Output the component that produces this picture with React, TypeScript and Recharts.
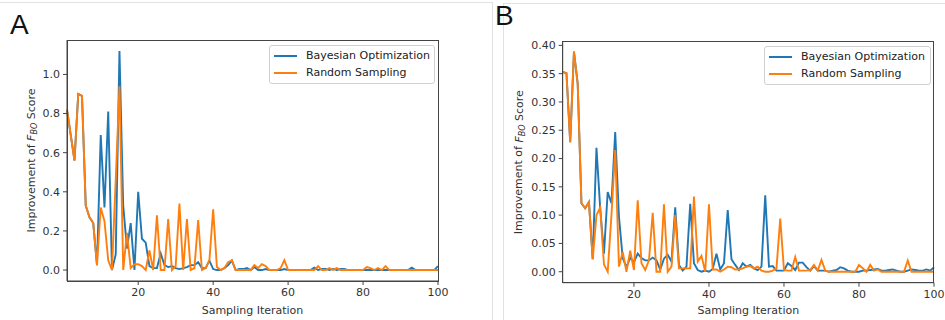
import React from "react";
import { Line, LineChart, XAxis, YAxis } from "recharts";

const iterations = Array.from({ length: 100 }, (_, i) => i + 1);
const xTicks = [20, 40, 60, 80, 100];

// panel A
const boA = [
  0.82, 0.69, 0.56, 0.9, 0.89, 0.33, 0.27, 0.24, 0.025, 0.69,
  0.32, 0.81, 0.0, 0.08, 1.12, 0.33, 0.11, 0.24, 0.0, 0.4,
  0.16, 0.14, 0.02, 0.01, 0.01, 0.085, 0.025, 0.015, 0.02, 0.01,
  0.005, 0.01, 0.015, 0.025, 0.025, 0.04, 0.01, 0.01, 0.048, 0.005,
  0, 0, 0.01, 0.025, 0.048, 0, 0.005, 0.005, 0.01, 0,
  0.015, 0, 0, 0.005, 0, 0, 0, 0, 0.005, 0,
  0, 0, 0, 0, 0, 0, 0.012, 0, 0.006, 0.006,
  0, 0.006, 0, 0.005, 0.006, 0, 0, 0, 0, 0,
  0, 0, 0, 0, 0, 0, 0, 0, 0, 0,
  0, 0, 0.012, 0, 0, 0, 0, 0, 0, 0.02,
];
const rsA = [
  0.82, 0.69, 0.56, 0.9, 0.89, 0.33, 0.27, 0.24, 0.025, 0.32,
  0.25, 0.05, 0.0, 0.46, 0.94, 0.0, 0.19, 0.01, 0.03, 0.03,
  0.02, 0.0, 0.1, 0.0, 0.28, 0.0, 0.0, 0.26, 0.0, 0.02,
  0.34, 0.0, 0.26, 0.0, 0.01, 0.255, 0.0, 0.01, 0.05, 0.31,
  0.015, 0, 0.01, 0.04, 0.05, 0, 0, 0, 0, 0,
  0.025, 0.01, 0.03, 0.02, 0, 0, 0, 0.01, 0.05, 0,
  0, 0, 0, 0, 0, 0, 0, 0.02, 0, 0,
  0.01, 0, 0.01, 0, 0, 0, 0, 0, 0, 0,
  0.015, 0.01, 0, 0.01, 0, 0.02, 0, 0, 0, 0,
  0, 0, 0, 0, 0, 0, 0, 0, 0, 0,
];
const yTicksA = [0, 0.2, 0.4, 0.6, 0.8, 1.0];

// panel B
const boB = [
  0.353, 0.351, 0.229, 0.389, 0.332, 0.121, 0.112, 0.123, 0.022, 0.219,
  0.112, 0.032, 0.141, 0.121, 0.247, 0.097, 0.024, 0.008, 0.025, 0.017,
  0.032, 0.024, 0.02, 0.02, 0.025, 0.02, 0.004, 0.023, 0.03, 0.018,
  0.114, 0.012, 0.002, 0.009, 0.12, 0.015, 0.003, 0, 0.002, 0,
  0.005, 0.032, 0.004, 0.015, 0.109, 0.022, 0.012, 0.003, 0.015, 0.009,
  0.012, 0.006, 0.003, 0.009, 0.135, 0.009, 0.01, 0.002, 0.002, 0.002,
  0.015, 0.01, 0.003, 0.016, 0.016, 0.008, 0.002, 0.01, 0.002, 0.002,
  0.002, 0, 0.002, 0.003, 0.008, 0.006, 0.002, 0, 0, 0,
  0.002, 0.002, 0.003, 0.004, 0.005, 0.002, 0.002, 0.003, 0.004, 0.002,
  0, 0, 0.002, 0.004, 0.003, 0.002, 0.002, 0.004, 0.002, 0.008,
];
const rsB = [
  0.353, 0.351, 0.229, 0.389, 0.332, 0.121, 0.112, 0.123, 0.022, 0.1,
  0.113, 0.013, 0, 0.1, 0.215, 0.009, 0.035, 0, 0.037, 0.003,
  0.126, 0.015, 0.003, 0.02, 0.104, 0, 0, 0.119, 0, 0.009,
  0.1, 0.006, 0.006, 0.006, 0.006, 0.133, 0.018, 0.028, 0, 0.119,
  0.004, 0.004, 0, 0.004, 0.009, 0.008, 0.004, 0.004, 0.006, 0.009,
  0.01, 0.006, 0.009, 0.002, 0, 0, 0.002, 0.006, 0.094, 0.003,
  0.002, 0.002, 0.026, 0.002, 0.002, 0.002, 0.003, 0.012, 0.002, 0.021,
  0.002, 0, 0, 0, 0, 0, 0, 0, 0, 0.012,
  0.006, 0, 0.012, 0.002, 0.004, 0, 0, 0, 0, 0,
  0, 0, 0.02, 0, 0, 0, 0, 0, 0, 0,
];
const yTicksB = [0, 0.05, 0.1, 0.15, 0.2, 0.25, 0.3, 0.35, 0.4];

const BLUE = "#1f77b4";
const ORANGE = "#ff7f0e";
const FONT = "DejaVu Sans";
const H = 320;
const Y_W = 40;
const X_H = 30;

type Box = { x: number; y: number; w: number; h: number };

type PanelProps = {
  left: number;
  width: number;
  plot: Box;
  bo: number[];
  rs: number[];
  yDomain: [number, number];
  yTicks: number[];
  digits: number;
  letter: string;
  letterPos: { x: number; y: number };
  legend: { x: number; y: number; w: number };
  yTitleX: number;
};

function Panel(p: PanelProps) {
  const rows = iterations.map((x, i) => ({ x, bo: p.bo[i], rs: p.rs[i] }));
  const { plot } = p;
  const margin = {
    top: plot.y,
    left: plot.x - Y_W,
    right: p.width - plot.x - plot.w,
    bottom: H - plot.y - plot.h - X_H,
  };
  const midY = plot.y + plot.h / 2;
  const midX = plot.x + plot.w / 2;

  return (
    <div style={{ position: "absolute", left: p.left, top: 0, width: p.width, height: H }}>
      <LineChart width={p.width} height={H} data={rows} margin={margin}>
        <XAxis
          dataKey="x"
          type="number"
          domain={[1, 100]}
          ticks={xTicks}
          height={X_H}
          tickSize={4}
          tickMargin={3}
          stroke="#444"
          tick={{ fontSize: 11, fill: "#333", fontFamily: FONT }}
          label={{
            content: () => (
              <text x={midX} y={314} textAnchor="middle" fontSize={11} fill="#333" fontFamily={FONT}>
                Sampling Iteration
              </text>
            ),
          }}
        />
        <YAxis
          type="number"
          domain={p.yDomain}
          ticks={p.yTicks}
          width={Y_W}
          tickSize={4}
          tickMargin={3}
          stroke="#444"
          tickFormatter={(v: number) => v.toFixed(p.digits)}
          tick={{ fontSize: 11, fill: "#333", fontFamily: FONT }}
          label={{
            content: () => (
              <text
                x={p.yTitleX}
                y={midY}
                transform={`rotate(-90 ${p.yTitleX} ${midY})`}
                textAnchor="middle"
                dominantBaseline="central"
                fontSize={11}
                fill="#333"
                fontFamily={FONT}
              >
                Improvement of <tspan fontStyle="italic">F</tspan>
                <tspan fontStyle="italic" fontSize={8} dy={3}>BO</tspan>
                <tspan dy={-3}> Score</tspan>
              </text>
            ),
          }}
        />
        <Line dataKey="bo" stroke={BLUE} strokeWidth={1.9} dot={false} isAnimationActive={false} />
        <Line dataKey="rs" stroke={ORANGE} strokeWidth={1.9} dot={false} isAnimationActive={false} />
      </LineChart>

      {/* plot frame */}
      <div
        style={{
          position: "absolute",
          left: plot.x - 0.5,
          top: plot.y - 0.5,
          width: plot.w + 1,
          height: plot.h + 1,
          border: "1px solid #444",
          boxSizing: "border-box",
          pointerEvents: "none",
        }}
      />

      <div
        style={{
          position: "absolute",
          left: p.legend.x,
          top: p.legend.y,
          width: p.legend.w,
          padding: "1px 0 2px 0",
          background: "rgba(255,255,255,0.8)",
          border: "1px solid #d0d0d0",
          borderRadius: 3,
          fontFamily: FONT,
          fontSize: 11,
          color: "#222",
        }}
      >
        {[
          { name: "Bayesian Optimization", color: BLUE },
          { name: "Random Sampling", color: ORANGE },
        ].map((item) => (
          <div key={item.name} style={{ display: "flex", alignItems: "center", height: 17 }}>
            <div style={{ width: 23, height: 2, background: item.color, marginLeft: 4, marginRight: 9 }} />
            <span>{item.name}</span>
          </div>
        ))}
      </div>

      <div
        style={{
          position: "absolute",
          left: p.letterPos.x,
          top: p.letterPos.y,
          fontFamily: "Liberation Sans",
          fontSize: 28,
          lineHeight: "28px",
          color: "#111",
        }}
      >
        {p.letter}
      </div>
    </div>
  );
}

export default function App() {
  return (
    <div style={{ position: "absolute", left: 0, top: 0, width: 945, height: H, background: "#fff", overflow: "hidden" }}>
      <div style={{ position: "absolute", left: 0, top: 2, width: 492, height: 1, background: "#e2e2e2" }} />
      <div style={{ position: "absolute", left: 492, top: 2, width: 1, height: H, background: "#e2e2e2" }} />
      <div style={{ position: "absolute", left: 503, top: 3, width: 442, height: 1, background: "#e2e2e2" }} />
      <div style={{ position: "absolute", left: 503, top: 3, width: 1, height: H, background: "#e2e2e2" }} />
      <Panel
        left={0}
        width={492}
        plot={{ x: 67, y: 40, w: 371, h: 241 }}
        bo={boA}
        rs={rsA}
        yDomain={[-0.056, 1.176]}
        yTicks={yTicksA}
        digits={1}
        letter="A"
        letterPos={{ x: 10, y: 11 }}
        legend={{ x: 269, y: 45, w: 164 }}
        yTitleX={31}
      />
      <Panel
        left={492}
        width={453}
        plot={{ x: 70.7, y: 41.7, w: 371.3, h: 241 }}
        bo={boB}
        rs={rsB}
        yDomain={[-0.0194, 0.4065]}
        yTicks={yTicksB}
        digits={2}
        letter="B"
        letterPos={{ x: 3, y: 2 }}
        legend={{ x: 272, y: 46, w: 165 }}
        yTitleX={27}
      />
    </div>
  );
}
